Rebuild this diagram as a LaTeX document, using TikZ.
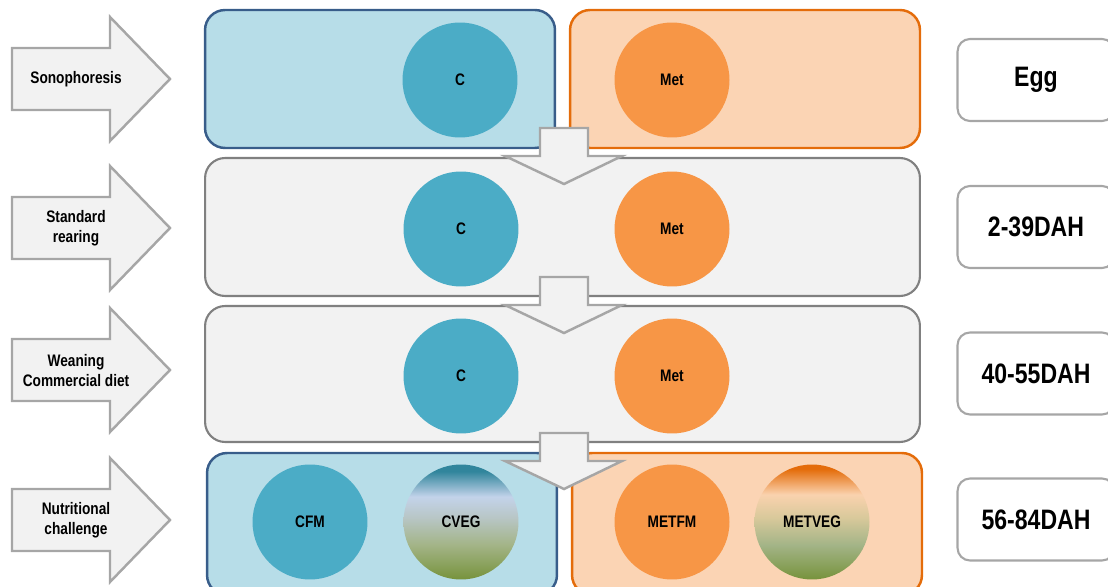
\documentclass[tikz,border=0pt]{standalone}
\usepackage{fontspec}
\setmainfont{Liberation Sans}
\newfontfamily\narrowfont{Liberation Sans}[FakeStretch=0.82]
\usetikzlibrary{shapes.geometric}
\definecolor{ctrlfill}{HTML}{B7DDE8}
\definecolor{ctrldraw}{HTML}{385D8A}
\definecolor{ctrlcirc}{HTML}{4BACC6}
\definecolor{metfill}{HTML}{FBD4B4}
\definecolor{metdraw}{HTML}{E46C0A}
\definecolor{metcirc}{HTML}{F79646}
\definecolor{rowfill}{HTML}{F2F2F2}
\definecolor{rowdraw}{HTML}{808080}
\definecolor{arrowdraw}{HTML}{A6A6A6}
\definecolor{leafgreen}{HTML}{77933C}
\definecolor{vegmid}{HTML}{A3B487}
\definecolor{veggray}{HTML}{B8C6C6}
\definecolor{skyblue}{HTML}{C3D3EA}
\definecolor{tealdark}{HTML}{31859C}
\definecolor{vegtan}{HTML}{D9C99B}
\definecolor{peach}{HTML}{FAD2AE}
\pgfdeclareverticalshading{cvegshade}{100bp}{color(0bp)=(leafgreen); color(25bp)=(leafgreen); color(40bp)=(vegmid); color(52bp)=(veggray); color(61bp)=(skyblue); color(72bp)=(tealdark); color(100bp)=(tealdark)}
\pgfdeclareverticalshading{metvegshade}{100bp}{color(0bp)=(leafgreen); color(25bp)=(leafgreen); color(40bp)=(vegmid); color(52bp)=(vegtan); color(62bp)=(peach); color(73bp)=(metdraw); color(100bp)=(metdraw)}
\tikzset{
  stagearrow/.style={draw=arrowdraw, fill=rowfill, line width=1.4pt, line join=miter},
  stagelabel/.style={align=center, font=\narrowfont\bfseries\fontsize{9.5}{11.4}\selectfont},
  ctrlbox/.style={draw=ctrldraw, fill=ctrlfill, line width=1.4pt, rounded corners=0.4cm, minimum width=7cm},
  metbox/.style={draw=metdraw, fill=metfill, line width=1.4pt, rounded corners=0.4cm, minimum width=7cm},
  rowbox/.style={draw=rowdraw, fill=rowfill, line width=1.2pt, rounded corners=0.4cm, minimum width=14.3cm},
  group/.style={circle, minimum size=2.3cm, inner sep=0pt, font=\narrowfont\bfseries\fontsize{9.5}{11.4}\selectfont},
  ccirc/.style={group, fill=ctrlcirc},
  mcirc/.style={group, fill=metcirc},
  dahbox/.style={draw=arrowdraw, fill=white, line width=1.2pt, rounded corners=0.25cm, minimum width=3.14cm, minimum height=1.64cm, font=\narrowfont\bfseries\fontsize{16}{19}\selectfont}
}

\begin{document}
\begin{tikzpicture}[x=0.02cm, y=-0.02cm]
      \useasboundingbox (0,0) rectangle (1108,587);

      \foreach \c in {79,228,370,520}
        \draw [stagearrow] (12,\c-31) -- (110,\c-31) -- (110,\c-62) -- (170,\c) -- (110,\c+62) -- (110,\c+31) -- (12,\c+31) -- cycle;

      \node [stagelabel] (sono) at (76,79) {Sonophoresis};
      \node [stagelabel] (rear) at (76,228) {Standard\\rearing};
      \node [stagelabel] (wean) at (76,371) {Weaning\\Commercial diet};
      \node [stagelabel] (chal) at (76,520) {Nutritional\\challenge};

      \node [ctrlbox, minimum height=2.76cm] (ctrl1) at (380,79) {};
      \node [metbox, minimum height=2.76cm] (met1) at (745,79) {};
      \node [rowbox, minimum height=2.76cm] (row2) at (562.5,227) {};
      \node [rowbox, minimum height=2.72cm] (row3) at (562.5,374) {};
      \node [ctrlbox, minimum height=2.84cm] (ctrl4) at (382,524) {};
      \node [metbox, minimum height=2.84cm] (met4) at (747,524) {};

      \node [ccirc] (c1) at (460,80) {C};
      \node [mcirc] (m1) at (672,80) {Met};
      \node [ccirc] (c2) at (461,229) {C};
      \node [mcirc] (m2) at (672,229) {Met};
      \node [ccirc] (c3) at (461,376) {C};
      \node [mcirc] (m3) at (672,376) {Met};
      \node [ccirc] (cfm) at (310,522) {CFM};
      \node [group, shading=cvegshade] (cveg) at (461,522) {CVEG};
      \node [mcirc] (metfm) at (672,522) {METFM};
      \node [group, shading=metvegshade] (metveg) at (812,522) {METVEG};

      \foreach \t in {128,277,433}
        \draw [stagearrow] (540,\t) -- (588,\t) -- (588,\t+28) -- (622,\t+28) -- (564,\t+56) -- (505,\t+28) -- (540,\t+28) -- cycle;

      \node [dahbox] (egg) at (1036,80) {Egg};
      \node [dahbox] (d2) at (1036,227) {2-39DAH};
      \node [dahbox] (d40) at (1036,373.5) {40-55DAH};
      \node [dahbox] (d56) at (1036,519.5) {56-84DAH};
\end{tikzpicture}
\end{document}
